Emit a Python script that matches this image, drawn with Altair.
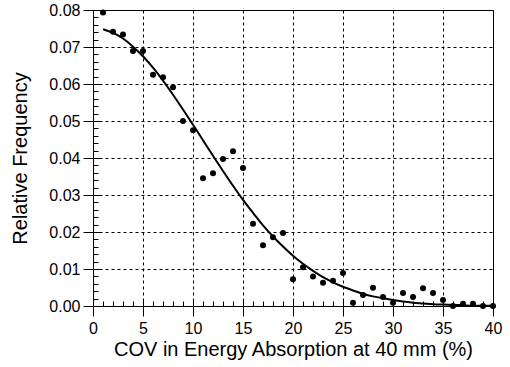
import altair as alt
import pandas as pd

# Observed relative frequencies (points)
cov_pts = list(range(1, 41))
freq_pts = [0.0793, 0.0741, 0.0734, 0.0689, 0.0689, 0.0625, 0.0618, 0.0591, 0.0500, 0.0475,
            0.0345, 0.0359, 0.0397, 0.0418, 0.0373, 0.0222, 0.0164, 0.0186, 0.0197, 0.0072,
            0.0105, 0.0080, 0.0063, 0.0068, 0.0089, 0.0009, 0.0030, 0.0049, 0.0024, 0.0009,
            0.0035, 0.0024, 0.0048, 0.0035, 0.0016, 0.0000, 0.0006, 0.0006, 0.0000, 0.0000]

# Fitted curve
cov_fit = list(range(1, 41))
freq_fit = [0.0748, 0.0738, 0.0723, 0.0701, 0.0675, 0.0644, 0.0609, 0.0571, 0.0531, 0.0490,
            0.0448, 0.0406, 0.0365, 0.0325, 0.0287, 0.0252, 0.0218, 0.0188, 0.0161, 0.0136,
            0.0114, 0.0095, 0.0078, 0.0064, 0.0052, 0.0042, 0.0033, 0.0026, 0.0021, 0.0016,
            0.0012, 0.0009, 0.0007, 0.0005, 0.0004, 0.0003, 0.0002, 0.0001, 0.0001, 0.0001]

x_major = [0, 5, 10, 15, 20, 25, 30, 35, 40]
x_minor = list(range(0, 41))
y_major = [0.0, 0.01, 0.02, 0.03, 0.04, 0.05, 0.06, 0.07, 0.08]
y_minor = [round(i * 0.002, 3) for i in range(41)]

pts = pd.DataFrame({"x": cov_pts, "y": freq_pts})
fit = pd.DataFrame({"x": cov_fit, "y": freq_fit})

FONT = "Liberation Sans"
xscale = alt.Scale(domain=[0, 40], nice=False, zero=False)
yscale = alt.Scale(domain=[0, 0.08], nice=False, zero=False)

main_x = alt.Axis(values=x_major, tickSize=10, tickColor="black", tickWidth=1,
                  domainColor="black", labelColor="black", labelFont=FONT, labelFontSize=16,
                  labelPadding=4, labelFlush=False, labelOverlap=False,
                  title="COV in Energy Absorption at 40 mm (%)",
                  titleFont=FONT, titleFontSize=20, titleFontWeight="normal", titleColor="black",
                  titlePadding=3, grid=True, gridColor="black", gridDash=[3, 3], gridWidth=1,
                  orient="bottom")
main_y = alt.Axis(values=y_major, format=".2f", tickSize=10, tickColor="black", tickWidth=1,
                  domainColor="black", labelColor="black", labelFont=FONT, labelFontSize=16,
                  labelPadding=3, labelFlush=False, labelOverlap=False,
                  title="Relative Frequency",
                  titleFont=FONT, titleFontSize=20, titleFontWeight="normal", titleColor="black",
                  titlePadding=18, grid=True, gridColor="black", gridDash=[3, 3], gridWidth=1,
                  orient="left")

minor_x = alt.Axis(values=x_minor, tickSize=5, offset=-5, tickColor="black", labels=False,
                   domain=False, grid=False, title=None, orient="bottom")
minor_y = alt.Axis(values=y_minor, tickSize=5, offset=-5, tickColor="black", labels=False,
                   domain=False, grid=False, title=None, orient="left")

inner_x = alt.Axis(values=x_major, tickSize=7, offset=-7, tickColor="black", labels=False,
                   domain=False, grid=False, title=None, orient="bottom")
inner_y = alt.Axis(values=y_major, tickSize=7, offset=-7, tickColor="black", labels=False,
                   domain=False, grid=False, title=None, orient="left")

points = alt.Chart(pts).mark_circle(size=36, color="black", opacity=1).encode(
    x=alt.X("x:Q", scale=xscale, axis=main_x),
    y=alt.Y("y:Q", scale=yscale, axis=main_y),
)

curve = alt.Chart(fit).mark_line(color="black", strokeWidth=2, interpolate="monotone").encode(
    x=alt.X("x:Q", scale=xscale, axis=minor_x),
    y=alt.Y("y:Q", scale=yscale, axis=minor_y),
)

ghost = alt.Chart(fit).mark_line(opacity=0).encode(
    x=alt.X("x:Q", scale=xscale, axis=inner_x),
    y=alt.Y("y:Q", scale=yscale, axis=inner_y),
)

chart = alt.layer(points, curve, ghost).resolve_axis(
    x="independent", y="independent"
).properties(
    width=400, height=296,
    autosize=alt.AutoSizeParams(type="none"),
    padding={"left": 93, "top": 10, "right": 17, "bottom": 61},
    background="white",
).configure_view(stroke="black", strokeWidth=1)

chart.save("out.html", embed_options={"renderer": "svg", "actions": False})
